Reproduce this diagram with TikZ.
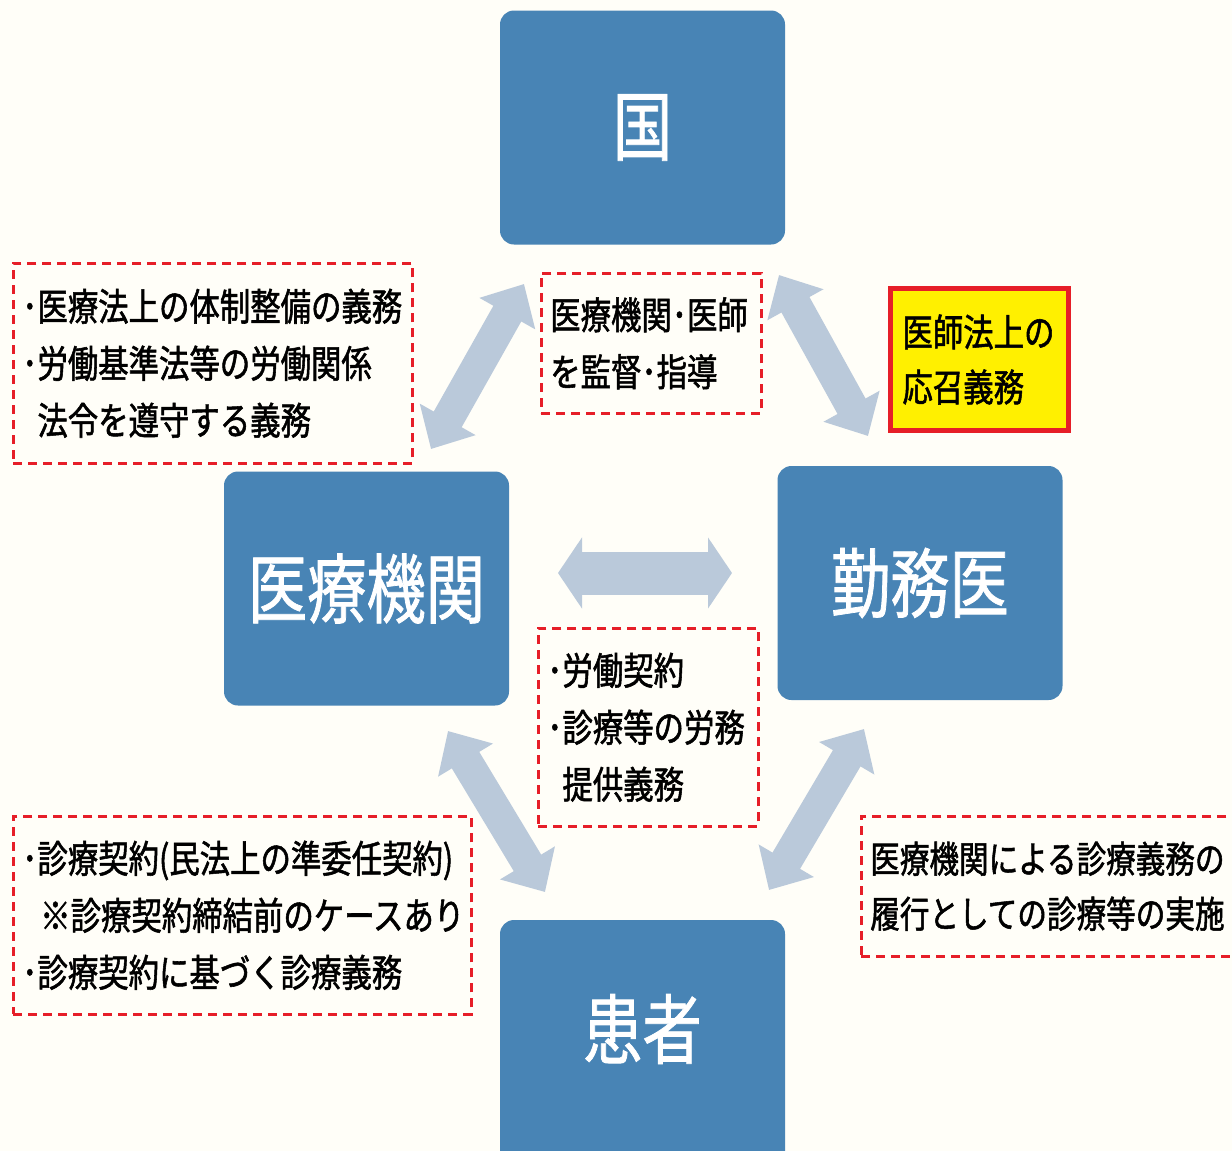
\documentclass[tikz,border=0pt]{standalone}
\usepackage{fontspec}
\newfontfamily\jpfont[FakeStretch=0.8,FakeBold=1.4]{Noto Sans CJK JP}
\newfontfamily\jpbig[FakeStretch=0.78,FakeBold=1]{Noto Sans CJK JP}
\usetikzlibrary{arrows.meta}
\definecolor{bgpaper}{RGB}{255,254,248}
\definecolor{boxblue}{RGB}{72,132,181}
\definecolor{arrowgrey}{RGB}{186,201,218}
\definecolor{dashred}{RGB}{230,30,40}
\definecolor{noteyellow}{RGB}{255,240,0}
\tikzset{
  bluebox/.style={fill=boxblue, rounded corners=14pt, minimum width=285pt, minimum height=234pt,
    text=white, font=\jpbig\fontsize{76}{80}\selectfont},
  notebox/.style={draw=dashred, line width=2.5pt, dash pattern=on 9pt off 6pt, anchor=north west,
    align=left, inner xsep=9pt, inner ysep=0pt, font=\jpfont\fontsize{38}{57}\selectfont},
  dutybox/.style={draw=dashred, fill=noteyellow, line width=5pt, anchor=north west,
    align=left, inner xsep=12pt, inner ysep=0pt, font=\jpfont\fontsize{38}{55}\selectfont},
  relarrow/.style={draw=arrowgrey, line width=32pt, {Triangle[width=62pt,length=34pt]}-{Triangle[width=62pt,length=34pt]}},
  widearrow/.style={draw=arrowgrey, line width=43pt, {Triangle[width=70pt,length=24pt]}-{Triangle[width=70pt,length=24pt]}}
}
\begin{document}
\begin{tikzpicture}[x=1pt,y=-1pt]
\useasboundingbox (0,0) rectangle (1232,1151);
\fill[bgpaper] (0,0) rectangle (1232,1151);

% blue boxes
\node[bluebox] (kuni) at (642.5,127.5) {国};
\node[bluebox] (iryo) at (366.5,588.5) {医療機関};
\node[bluebox] (kinmu) at (920,583) {勤務医};
\node[bluebox, minimum height=262pt, text depth=50pt] (kanja) at (642.5,1051) {患者};

% arrows
\coordinate (a1top) at (524,284); \coordinate (a1bot) at (431,449);
\coordinate (a2top) at (779,275); \coordinate (a2bot) at (868,436);
\coordinate (a3left) at (558,573); \coordinate (a3right) at (732,573);
\coordinate (a4top) at (448,731); \coordinate (a4bot) at (545,892);
\coordinate (a5top) at (864,729); \coordinate (a5bot) at (769,890);
\draw[relarrow] (a1top) -- (a1bot);
\draw[relarrow] (a2top) -- (a2bot);
\draw[widearrow] (a3left) -- (a3right);
\draw[relarrow] (a4top) -- (a4bot);
\draw[relarrow] (a5top) -- (a5bot);

% notes
\node[notebox, text width=381pt, minimum height=200pt] (taisei) at (12,262)
  {･医療法上の体制整備の義務\\･労働基準法等の労働関係\\\phantom{･}法令を遵守する義務};
\node[notebox, text width=202pt, minimum height=140pt] (kantoku) at (540,272)
  {医療機関･医師\\を監督･指導};
\node[dutybox, text width=154pt, minimum height=142pt] (oushou) at (888,286)
  {医師法上の\\応召義務};
\node[notebox, text width=202pt, minimum height=198pt] (keiyaku) at (537,627)
  {･労働契約\\･診療等の労務\\\phantom{･}提供義務};
\node[notebox, text width=440pt, minimum height=198pt] (shinryo) at (12,815)
  {･診療契約(民法上の準委任契約)\\\hspace*{18pt}※診療契約締結前のケースあり\\･診療契約に基づく診療義務};
\node[notebox, text width=372pt, minimum height=140pt, font=\jpfont\fontsize{37}{55}\selectfont] (rikou) at (860,815)
  {医療機関による診療義務の\\履行としての診療等の実施};
\end{tikzpicture}
\end{document}
